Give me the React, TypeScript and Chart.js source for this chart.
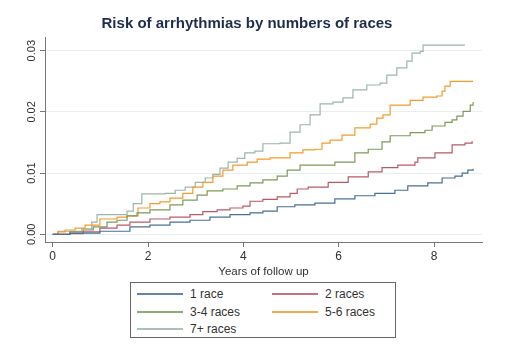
import React, { useEffect, useRef } from "react";
import { Chart, registerables } from "chart.js";

Chart.register(...registerables);

const titleText = "Risk of arrhythmias by numbers of races";
const xAxisTitle = "Years of follow up";
const seriesNames = ["1 race", "2 races", "3-4 races", "5-6 races", "7+ races"];
const seriesColors = ["#4a6f96", "#b85a66", "#7e9a5a", "#f29b2e", "#9db5a8"];

const xTickValues = [0, 2, 4, 6, 8];
const yTickValues = [0, 0.01, 0.02, 0.03];
const yTickLabels = ["0.00", "0.01", "0.02", "0.03"];

const oneRaceYears = [0, 0.36, 0.99, 1.62, 2.04, 2.46, 2.88, 3.3, 3.72, 4.14, 4.41, 4.71, 5.08, 5.5, 5.92, 6.34, 6.76, 7.18, 7.45, 7.87, 8.17, 8.44, 8.59, 8.71, 8.82];
const oneRaceRisk = [0, 0.0002, 0.0005, 0.0012, 0.0015, 0.002, 0.0023, 0.0028, 0.0032, 0.0035, 0.0038, 0.0045, 0.0048, 0.0051, 0.0058, 0.0063, 0.0067, 0.0072, 0.0079, 0.0084, 0.0092, 0.0095, 0.01, 0.0105, 0.0107];

const twoRacesYears = [0, 0.36, 0.64, 0.99, 1.35, 1.62, 2.04, 2.46, 2.88, 3.15, 3.45, 3.72, 3.99, 4.14, 4.41, 4.71, 4.98, 5.13, 5.36, 5.78, 6.2, 6.62, 6.91, 7.24, 7.6, 7.66, 8.02, 8.38, 8.65, 8.8];
const twoRacesRisk = [0, 0.0001, 0.0004, 0.001, 0.0015, 0.002, 0.0025, 0.0028, 0.0032, 0.0037, 0.004, 0.0043, 0.0046, 0.0054, 0.0057, 0.0061, 0.0067, 0.0074, 0.0077, 0.0085, 0.0094, 0.0102, 0.0109, 0.0113, 0.0118, 0.0125, 0.0133, 0.0146, 0.0149, 0.0152];

const threeFourYears = [0, 0.36, 0.64, 0.85, 1.14, 1.35, 1.56, 1.77, 2.04, 2.46, 2.73, 3.03, 3.24, 3.57, 3.87, 4.14, 4.41, 4.71, 4.92, 5.19, 5.92, 6.34, 6.62, 6.91, 7.08, 7.5, 7.81, 7.96, 8.23, 8.38, 8.48, 8.61, 8.76, 8.82];
const threeFourRisk = [0, 0.0004, 0.0007, 0.0012, 0.002, 0.0023, 0.003, 0.0035, 0.004, 0.0048, 0.0056, 0.0064, 0.0071, 0.0074, 0.0079, 0.0084, 0.0089, 0.0095, 0.0105, 0.0113, 0.0118, 0.0133, 0.0139, 0.0151, 0.0161, 0.0166, 0.017, 0.0177, 0.0183, 0.0187, 0.0193, 0.0201, 0.0211, 0.0216];

const fiveSixYears = [0, 0.11, 0.26, 0.47, 0.68, 0.99, 1.35, 1.56, 1.79, 2.04, 2.25, 2.46, 2.73, 2.94, 3.15, 3.36, 3.57, 3.78, 4.08, 4.29, 4.56, 4.98, 5.25, 5.5, 5.65, 5.82, 6.07, 6.34, 6.66, 6.8, 6.93, 7.08, 7.5, 7.77, 8.06, 8.17, 8.23, 8.34, 8.82];
const fiveSixRisk = [0, 0.0004, 0.0007, 0.001, 0.0015, 0.0025, 0.0028, 0.003, 0.0043, 0.005, 0.0053, 0.0059, 0.0067, 0.0077, 0.0085, 0.0095, 0.0105, 0.0113, 0.0118, 0.0123, 0.0125, 0.0133, 0.0138, 0.0139, 0.0149, 0.0154, 0.0162, 0.0174, 0.018, 0.019, 0.0195, 0.0211, 0.0219, 0.0224, 0.0226, 0.0234, 0.0242, 0.025, 0.025];

const sevenPlusYears = [0, 0.11, 0.61, 0.82, 0.93, 1.35, 1.56, 1.69, 1.87, 2.36, 2.57, 2.78, 2.99, 3.2, 3.36, 3.51, 3.68, 3.87, 4.03, 4.24, 4.41, 4.77, 4.98, 5.19, 5.4, 5.61, 5.88, 6.09, 6.3, 6.59, 6.87, 7.01, 7.22, 7.43, 7.54, 7.71, 7.77, 8.65];
const sevenPlusRisk = [0, 0.0005, 0.0009, 0.002, 0.0032, 0.0032, 0.0038, 0.005, 0.0066, 0.0067, 0.0072, 0.0077, 0.0085, 0.0092, 0.0098, 0.0108, 0.0118, 0.0124, 0.0133, 0.0136, 0.0148, 0.0149, 0.0167, 0.0179, 0.0195, 0.0213, 0.0216, 0.0223, 0.0236, 0.0244, 0.0247, 0.026, 0.0272, 0.0283, 0.0296, 0.0299, 0.0309, 0.0309];

const seriesYears = [oneRaceYears, twoRacesYears, threeFourYears, fiveSixYears, sevenPlusYears];
const seriesRisk = [oneRaceRisk, twoRacesRisk, threeFourRisk, fiveSixRisk, sevenPlusRisk];

const FONT = '"Liberation Sans", Arial, sans-serif';

const yLabelPlugin = {
  id: "yRotLabels",
  afterDraw(chart: any) {
    const s = chart.scales.y;
    const ctx = chart.ctx;
    ctx.save();
    ctx.font = `11px ${FONT}`;
    ctx.fillStyle = "#333333";
    ctx.textAlign = "center";
    ctx.textBaseline = "middle";
    yTickValues.forEach((v, i) => {
      const py = s.getPixelForValue(v);
      ctx.save();
      ctx.translate(s.right - 13, py);
      ctx.rotate(-Math.PI / 2);
      ctx.fillText(yTickLabels[i], 0, 0);
      ctx.restore();
    });
    ctx.restore();
  },
};

export default function App() {
  const ref = useRef<HTMLCanvasElement | null>(null);

  useEffect(() => {
    if (!ref.current) return;
    const datasets = seriesNames.map((name, i) => ({
      label: name,
      data: seriesYears[i].map((x, j) => ({ x, y: seriesRisk[i][j] })),
      borderColor: seriesColors[i],
      backgroundColor: seriesColors[i],
      borderWidth: 1.2,
      pointRadius: 0,
      stepped: true as const,
      fill: false,
    }));
    const chart = new Chart(ref.current, {
      type: "line",
      data: { datasets },
      plugins: [yLabelPlugin],
      options: {
        animation: false,
        responsive: false,
        devicePixelRatio: 1,
        layout: { padding: { left: 12, right: 29, top: 0, bottom: 72 } },
        plugins: {
          legend: { display: false },
          tooltip: { enabled: false },
          title: {
            display: true,
            text: titleText,
            color: "#1f2d4d",
            font: { family: FONT, size: 15, weight: "bold" },
            padding: { top: 15, bottom: 4 },
          },
        },
        scales: {
          x: {
            type: "linear",
            min: -0.1616,
            max: 9.007,
            afterBuildTicks: (s: any) => {
              s.ticks = xTickValues.map((v) => ({ value: v }));
            },
            afterFit: (s: any) => {
              s.height = 37;
            },
            ticks: {
              color: "#333333",
              font: { family: FONT, size: 12 },
              padding: 2,
              maxRotation: 0,
              autoSkip: false,
              callback: (v: any) => String(v),
            },
            grid: {
              drawOnChartArea: false,
              drawTicks: true,
              tickLength: 5,
              tickColor: "#777777",
            },
            border: { display: true, color: "#777777", width: 1 },
            title: {
              display: true,
              text: xAxisTitle,
              color: "#333333",
              font: { family: FONT, size: 11.5 },
              padding: { top: 2, bottom: 0 },
            },
          },
          y: {
            type: "linear",
            min: -0.001258,
            max: 0.03224,
            afterBuildTicks: (s: any) => {
              s.ticks = yTickValues.map((v) => ({ value: v }));
            },
            afterFit: (s: any) => {
              s.width = 33;
            },
            ticks: { display: false },
            grid: {
              drawOnChartArea: true,
              color: "#e6eeee",
              drawTicks: true,
              tickLength: 5,
              tickColor: "#777777",
            },
            border: { display: true, color: "#777777", width: 1 },
          },
        },
      },
    });
    return () => chart.destroy();
  }, []);

  const rowCenters = [11, 29, 46];
  const legendItems = seriesNames.map((name, i) => {
    const col = i % 2;
    const row = Math.floor(i / 2);
    const lineLeft = col === 0 ? 6 : 141;
    const textLeft = col === 0 ? 59 : 194;
    const cy = rowCenters[row];
    return (
      <React.Fragment key={name}>
        <div
          style={{
            position: "absolute",
            left: lineLeft,
            top: cy - 1,
            width: 46,
            height: 2,
            backgroundColor: seriesColors[i],
            opacity: 0.85,
          }}
        />
        <div
          style={{
            position: "absolute",
            left: textLeft,
            top: cy - 8,
            height: 16,
            lineHeight: "16px",
            fontSize: 12,
            color: "#333333",
            whiteSpace: "nowrap",
          }}
        >
          {name}
        </div>
      </React.Fragment>
    );
  });

  return (
    <div
      style={{
        position: "fixed",
        left: 0,
        top: 0,
        width: 511,
        height: 351,
        background: "#ffffff",
        fontFamily: FONT,
      }}
    >
      <canvas ref={ref} width={511} height={351} style={{ display: "block", width: 511, height: 351 }} />
      <div
        style={{
          position: "absolute",
          left: 130,
          top: 282,
          width: 266,
          height: 56,
          boxSizing: "border-box",
          border: "1px solid #666666",
          background: "#ffffff",
        }}
      >
        {legendItems}
      </div>
    </div>
  );
}
